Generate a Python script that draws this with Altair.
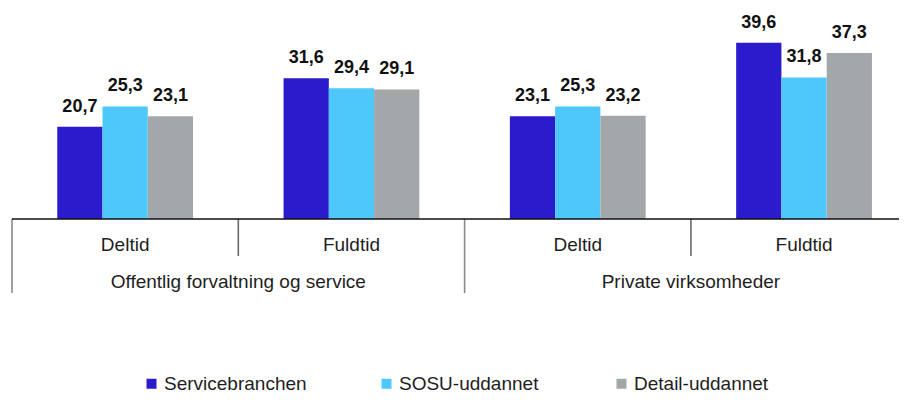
import altair as alt
import pandas as pd

# ---- data ----
sectors = ["Offentlig forvaltning og service", "Private virksomheder"]
times = ["Deltid", "Fuldtid"]
series = ["Servicebranchen", "SOSU-uddannet", "Detail-uddannet"]
servicebranchen = [20.7, 31.6, 23.1, 39.6]
sosu_uddannet = [25.3, 29.4, 25.3, 31.8]
detail_uddannet = [23.1, 29.1, 23.2, 37.3]
colors = ["#2b1bcc", "#4ec8fa", "#a2a8aa"]

values = [servicebranchen, sosu_uddannet, detail_uddannet]

# ---- build tables ----
rows = []
groups = [(s, t) for s in sectors for t in times]
for g, (s, t) in enumerate(groups):
    for k, name in enumerate(series):
        v = values[k][g]
        x0 = g + 0.2 + 0.2 * k
        rows.append(dict(sector=s, time=t, series=name, value=v, zero=0,
                         x0=x0, x1=x0 + 0.2, xc=x0 + 0.1,
                         label=f"{v:.1f}".replace(".", ",")))
df = pd.DataFrame(rows)

inner = pd.DataFrame(dict(time=[t for _, t in groups],
                          xc=[g + 0.5 for g in range(len(groups))]))
outer = pd.DataFrame(dict(sector=sectors,
                          xc=[2 * i + 1 for i in range(len(sectors))]))
long_div = pd.DataFrame(dict(pos=[0, 2, 4]))
short_div = pd.DataFrame(dict(pos=[1, 3]))
base = pd.DataFrame(dict(a=[0], b=[len(groups)], z=[0]))

GROUP_PX = 226.3
W, H = 887, 211
xscale = alt.Scale(domain=[0, W / GROUP_PX], nice=False, zero=False)
yscale = alt.Scale(domain=[0, 47.4], nice=False, zero=False)
FONT = "Liberation Sans"
TXT = "#1e1e1e"

bars = alt.Chart(df).mark_bar().encode(
    x=alt.X("x0:Q", scale=xscale, axis=None),
    x2="x1:Q",
    y=alt.Y("value:Q", scale=yscale, axis=None),
    y2="zero:Q",
    color=alt.Color(
        "series:N",
        scale=alt.Scale(domain=series, range=colors),
        legend=alt.Legend(
            title=None, orient="none", legendX=130, legendY=366,
            direction="horizontal", columns=3, gridAlign="all",
            columnPadding=70, symbolType="square", symbolSize=100,
            symbolStrokeWidth=0, labelFontSize=19, labelFont=FONT,
            labelColor=TXT, labelOffset=3, labelLimit=0, padding=0,
        ),
    ),
)

labels = alt.Chart(df).mark_text(
    baseline="alphabetic", dy=-15, fontSize=18, fontWeight="bold",
    font=FONT, color="#111111"
).encode(
    x=alt.X("xc:Q", scale=xscale),
    y=alt.Y("value:Q", scale=yscale),
    text="label:N",
)

baseline = alt.Chart(base).mark_rule(color="#111111", strokeWidth=1.6).encode(
    x=alt.X("a:Q", scale=xscale), x2="b:Q", y=alt.Y("z:Q", scale=yscale)
)

long_rules = alt.Chart(long_div).mark_rule(color="#8a8a8a", strokeWidth=1.6).encode(
    x=alt.X("pos:Q", scale=xscale), y=alt.value(H), y2=alt.value(H + 74)
)
short_rules = alt.Chart(short_div).mark_rule(color="#6a6a6a", strokeWidth=1.6).encode(
    x=alt.X("pos:Q", scale=xscale), y=alt.value(H), y2=alt.value(H + 37)
)

inner_text = alt.Chart(inner).mark_text(
    baseline="alphabetic", fontSize=19, font=FONT, color=TXT
).encode(x=alt.X("xc:Q", scale=xscale), y=alt.value(H + 32), text="time:N")

outer_text = alt.Chart(outer).mark_text(
    baseline="alphabetic", fontSize=19, font=FONT, color=TXT
).encode(x=alt.X("xc:Q", scale=xscale), y=alt.value(H + 69), text="sector:N")

chart = alt.layer(
    bars, labels, long_rules, short_rules, baseline, inner_text, outer_text
).properties(
    width=W, height=H,
    autosize=alt.AutoSizeParams(type="none"),
    padding={"left": 4, "top": 0, "right": 0, "bottom": 177},
).configure_view(stroke=None)

chart.save("out.html", embed_options={"renderer": "svg", "actions": False})
